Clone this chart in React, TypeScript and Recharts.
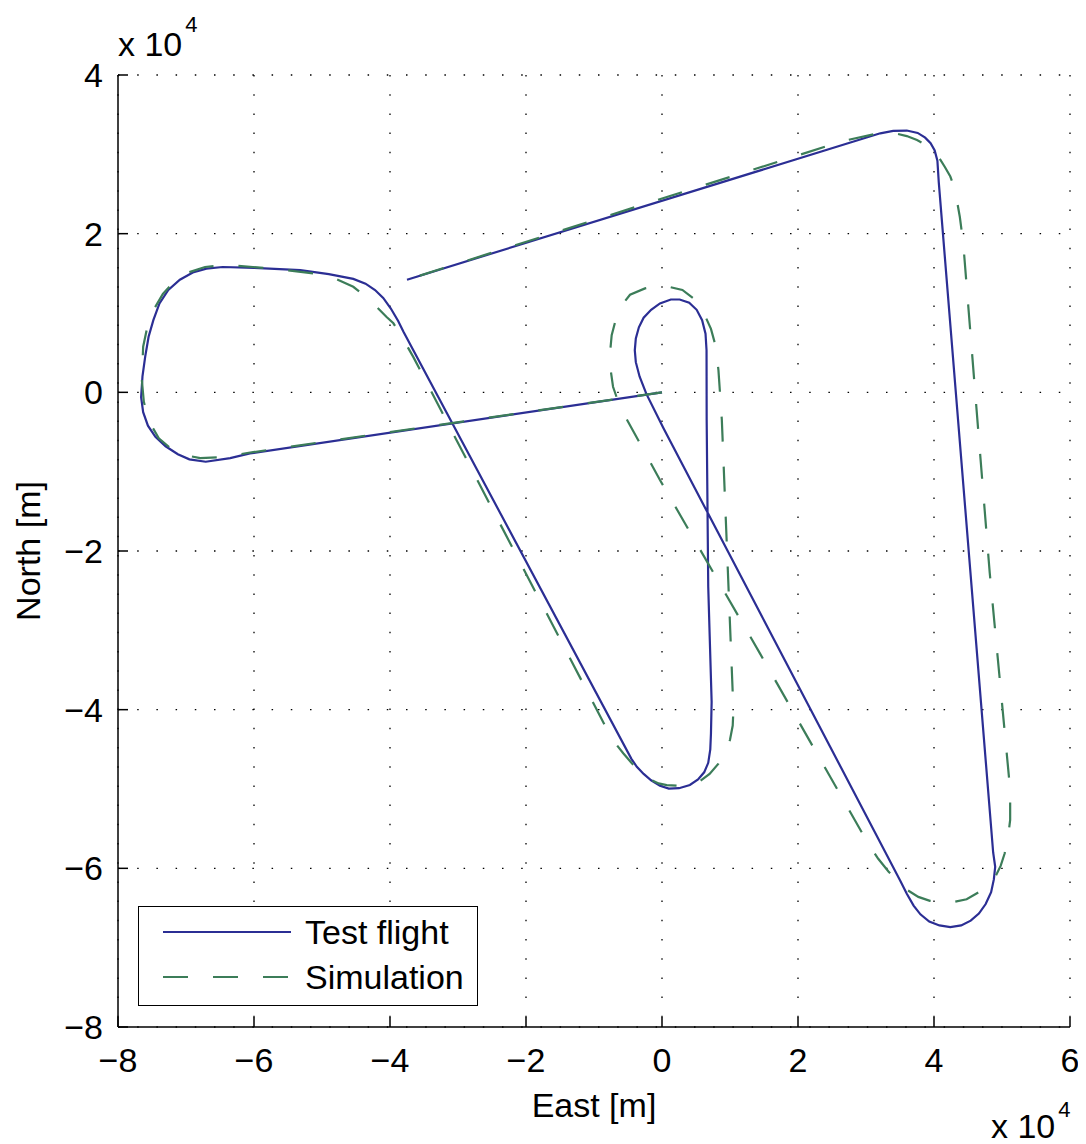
import React from 'react';
import { LineChart, Line, XAxis, YAxis, CartesianGrid, Legend } from 'recharts';

// Values in units of 10^4 m (as the axis exponent label states)
const xTicks = [-8, -6, -4, -2, 0, 2, 4, 6];
const yTicks = [-8, -6, -4, -2, 0, 2, 4];
const seriesNames = ['Test flight', 'Simulation'];
const seriesColors = ['#2B2E94', '#3C7D59'];
const axisTitles = ['East [m]', 'North [m]'];
const exponentLabel = ['x 10', '4'];

const testFlightEast = [
  0, -6.06, -6.35, -6.71, -6.95, -7.12, -7.3, -7.45, -7.56, -7.63, -7.66, -7.64, -7.6, -7.55, -7.48, -7.39,
  -7.26, -7.09, -6.9, -6.7, -6.46, -6.0, -5.32, -4.9, -4.54, -4.36, -4.22, -4.1, -3.99, -3.88, -3.8,
  -0.45, -0.37, -0.27, -0.16, -0.03, 0.1, 0.25, 0.41, 0.53, 0.62, 0.68, 0.71, 0.72, 0.73, 0.68, 0.657,
  0.655, 0.64, 0.59, 0.51, 0.4, 0.26, 0.13, -0.03, -0.16, -0.27, -0.34, -0.385, -0.4, -0.385, -0.33, -0.23,
  0.02, 3.5, 3.6, 3.7, 3.8, 3.93, 4.08, 4.24, 4.4, 4.54, 4.66, 4.76, 4.84, 4.88, 4.9, 4.87,
  4.07, 4.05, 4.01, 3.95, 3.87, 3.76, 3.6, 3.4, 3.21, -3.75,
];
const testFlightNorth = [
  0, -0.77, -0.83, -0.875, -0.845, -0.78, -0.68, -0.56, -0.42, -0.25, -0.06, 0.2, 0.45, 0.7, 0.91, 1.12,
  1.29, 1.42, 1.51, 1.56, 1.58, 1.57, 1.54, 1.49, 1.43, 1.37, 1.29, 1.19, 1.06, 0.9, 0.76,
  -4.62, -4.72, -4.81, -4.89, -4.96, -4.995, -4.99, -4.95, -4.88, -4.79, -4.67, -4.5, -4.3, -3.9, -2.45, -0.35,
  0.53, 0.74, 0.91, 1.04, 1.13, 1.17, 1.17, 1.12, 1.04, 0.94, 0.82, 0.68, 0.53, 0.38, 0.2, -0.02,
  -0.45, -6.15, -6.32, -6.47, -6.58, -6.67, -6.72, -6.74, -6.72, -6.66, -6.57, -6.45, -6.3, -6.14, -5.98, -5.8,
  2.65, 2.92, 3.05, 3.14, 3.21, 3.27, 3.3, 3.295, 3.265, 1.42,
];

const simulationEast = [
  0, -6.1, -6.45, -6.79, -7.02, -7.22, -7.4, -7.54, -7.62, -7.65, -7.63, -7.57, -7.47, -7.34, -7.17, -6.97,
  -6.72, -6.4, -5.72, -5.13, -4.8, -4.54, -4.36, -4.2, -4.05, -3.95, -3.8, -3.66,
  -0.79, -0.68, -0.57, -0.45, -0.33, -0.2, -0.05, 0.07, 0.25, 0.41, 0.56, 0.7, 0.83, 0.94, 1.0, 1.04, 1.05,
  0.88, 0.83, 0.79, 0.72, 0.62, 0.485, 0.3, 0.0, -0.25, -0.47, -0.6, -0.67, -0.74, -0.765, -0.75, -0.72, -0.62,
  -0.03, 1.44, 3.03, 3.18, 3.33, 3.47, 3.6, 3.77, 3.94, 4.19, 4.48, 4.68, 4.8, 4.9, 4.98, 5.04, 5.09, 5.12, 5.12,
  4.82, 4.65, 4.43, 4.38, 4.31, 4.24, 4.16, 4.08, 3.99, 3.88, 3.75, 3.6, 3.45, 3.21, 2.67, -3.75,
];
const simulationNorth = [
  0, -0.765, -0.815, -0.83, -0.79, -0.71, -0.58, -0.37, -0.12, 0.16, 0.575, 0.82, 1.05, 1.24, 1.4, 1.51,
  1.58, 1.605, 1.56, 1.5, 1.43, 1.33, 1.21, 1.08, 0.95, 0.87, 0.66, 0.45,
  -4.28, -4.43, -4.55, -4.67, -4.78, -4.87, -4.93, -4.95, -4.96, -4.95, -4.9, -4.81, -4.68, -4.52, -4.38, -4.2, -4.0,
  -0.35, 0.28, 0.58, 0.8, 0.99, 1.17, 1.29, 1.35, 1.31, 1.23, 1.09, 0.95, 0.72, 0.49, 0.25, 0.07, -0.18,
  -1.105, -3.29, -5.685, -5.88, -6.04, -6.16, -6.27, -6.36, -6.41, -6.44, -6.39, -6.29, -6.21, -6.11, -5.97, -5.81, -5.6, -5.39, -5.01,
  -2.28, -0.475, 1.88, 2.21, 2.55, 2.72, 2.84, 2.95, 3.05, 3.12, 3.18, 3.23, 3.26, 3.27, 3.17, 1.42,
];

const toPoints = (east: number[], north: number[]) => east.map((e, i) => ({ east: e, north: north[i] }));
const testFlightData = toPoints(testFlightEast, testFlightNorth);
const simulationData = toPoints(simulationEast, simulationNorth);

const FONT = '"Liberation Sans", Arial, Helvetica, sans-serif';
const FS = 34;
const TICK = 10;
const DASH = '25 25';

const fmt = (v: number) => (v < 0 ? '\u2212' + Math.abs(v) : String(v));

const BottomTick = (p: any) => (
  <g>
    <line x1={p.x} x2={p.x} y1={p.y} y2={p.y - TICK} stroke="#000" strokeWidth={1.5} />
    <text x={p.x} y={p.y + 45} textAnchor="middle" fontSize={FS} fontFamily={FONT} fill="#000">
      {fmt(p.payload.value)}
    </text>
  </g>
);
const TopTick = (p: any) => (
  <line x1={p.x} x2={p.x} y1={p.y} y2={p.y + TICK} stroke="#000" strokeWidth={1.5} />
);
const LeftTick = (p: any) => (
  <g>
    <line x1={p.x} x2={p.x + TICK} y1={p.y} y2={p.y} stroke="#000" strokeWidth={1.5} />
    <text x={p.x - 15} y={p.y + 12} textAnchor="end" fontSize={FS} fontFamily={FONT} fill="#000">
      {fmt(p.payload.value)}
    </text>
  </g>
);
const RightTick = (p: any) => (
  <line x1={p.x} x2={p.x - TICK} y1={p.y} y2={p.y} stroke="#000" strokeWidth={1.5} />
);

const XLabel = (props: any) => {
  const vb = props.viewBox || { x: 110, y: 1019, width: 952, height: 117 };
  return (
    <g fontFamily={FONT} fill="#000">
      <text x={vb.x + vb.width / 2} y={vb.y + 90} textAnchor="middle" fontSize={FS}>
        {axisTitles[0]}
      </text>
      <text x={vb.x + vb.width - 79} y={vb.y + 111} fontSize={FS}>
        {exponentLabel[0]}
        <tspan dx={3} dy={-21} fontSize={22}>
          {exponentLabel[1]}
        </tspan>
      </text>
    </g>
  );
};

const YLabel = (props: any) => {
  const vb = props.viewBox || { x: 0, y: 67, width: 110, height: 952 };
  const cx = vb.x + 32;
  const cy = vb.y + vb.height / 2;
  return (
    <g fontFamily={FONT} fill="#000">
      <text x={cx} y={cy} textAnchor="middle" fontSize={FS} transform={`rotate(-90, ${cx}, ${cy})`}>
        {axisTitles[1]}
      </text>
      <text x={vb.x + vb.width} y={vb.y - 19} fontSize={FS}>
        {exponentLabel[0]}
        <tspan dx={3} dy={-24} fontSize={22}>
          {exponentLabel[1]}
        </tspan>
      </text>
    </g>
  );
};

const LegendBox = () => (
  <div
    style={{
      width: 340,
      height: 100,
      border: '1.5px solid #000',
      background: '#fff',
      boxSizing: 'border-box',
      position: 'relative',
    }}
  >
    <svg width={337} height={97} style={{ position: 'absolute', left: 0, top: 0 }}>
      {seriesNames.map((name, i) => (
        <g key={name}>
          <line
            x1={24}
            x2={152}
            y1={25 + i * 45}
            y2={25 + i * 45}
            stroke={seriesColors[i]}
            strokeWidth={2.2}
            strokeDasharray={i === 1 ? DASH : undefined}
          />
          <text x={166} y={37 + i * 45} fontSize={FS} fontFamily={FONT} fill="#000">
            {name}
          </text>
        </g>
      ))}
    </svg>
  </div>
);

export default function App() {
  return (
    <LineChart
      width={1078}
      height={1136}
      margin={{ top: 67, right: 16, bottom: 0, left: 0 }}
      style={{ fontFamily: FONT, background: '#fff' }}
    >
      <CartesianGrid stroke="#000" strokeWidth={1.3} strokeDasharray="1.5 17.7" />
      <XAxis
        dataKey="east"
        type="number"
        domain={[-8, 6]}
        ticks={xTicks}
        interval={0}
        allowDataOverflow
        height={117}
        tickSize={0}
        tickMargin={0}
        tick={<BottomTick />}
        axisLine={{ stroke: '#000', strokeWidth: 1.5 }}
        label={XLabel}
      />
      <XAxis
        xAxisId="top"
        orientation="top"
        dataKey="east"
        type="number"
        domain={[-8, 6]}
        ticks={xTicks}
        interval={0}
        allowDataOverflow
        height={0}
        tickSize={0}
        tickMargin={0}
        tick={<TopTick />}
        axisLine={{ stroke: '#000', strokeWidth: 1.5 }}
      />
      <YAxis
        dataKey="north"
        type="number"
        domain={[-8, 4]}
        ticks={yTicks}
        interval={0}
        allowDataOverflow
        width={110}
        tickSize={0}
        tickMargin={0}
        tick={<LeftTick />}
        axisLine={{ stroke: '#000', strokeWidth: 1.5 }}
        label={YLabel}
      />
      <YAxis
        yAxisId="right"
        orientation="right"
        dataKey="north"
        type="number"
        domain={[-8, 4]}
        ticks={yTicks}
        interval={0}
        allowDataOverflow
        width={0}
        tickSize={0}
        tickMargin={0}
        tick={<RightTick />}
        axisLine={{ stroke: '#000', strokeWidth: 1.5 }}
      />
      <Line
        data={testFlightData}
        dataKey="north"
        name={seriesNames[0]}
        type="linear"
        stroke={seriesColors[0]}
        strokeWidth={2.2}
        dot={false}
        activeDot={false}
        isAnimationActive={false}
      />
      <Line
        data={simulationData}
        dataKey="north"
        name={seriesNames[1]}
        type="linear"
        stroke={seriesColors[1]}
        strokeWidth={2.2}
        strokeDasharray={DASH}
        dot={false}
        activeDot={false}
        isAnimationActive={false}
      />
      <Legend
        layout="horizontal"
        align="center"
        verticalAlign="middle"
        content={<LegendBox />}
        wrapperStyle={{ left: 130, top: 898, width: 340, height: 100 }}
      />
    </LineChart>
  );
}
